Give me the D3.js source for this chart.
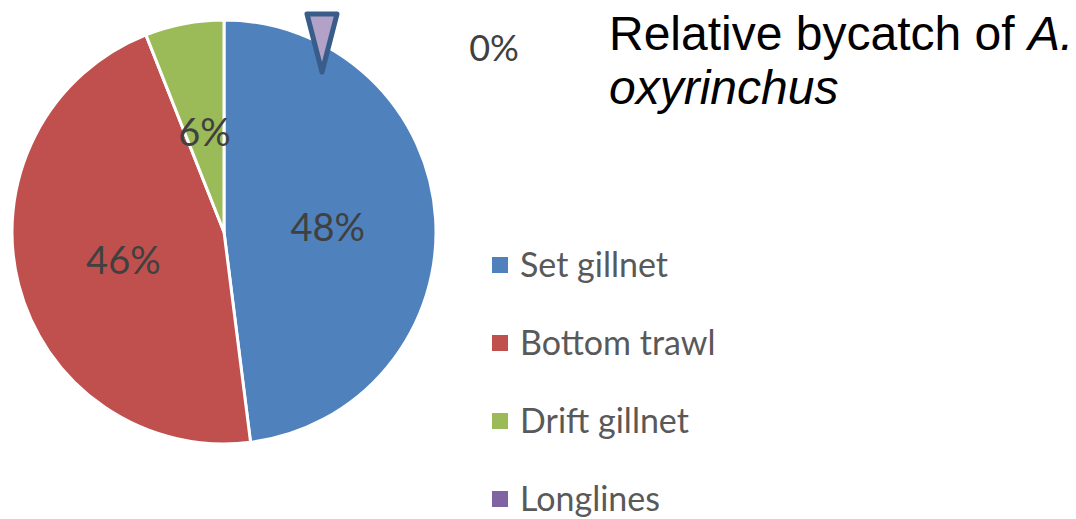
<!DOCTYPE html>
<html>
<head>
<meta charset="utf-8">
<script src="https://cdn.jsdelivr.net/npm/d3@7"></script>
<style>
  body { margin: 0; background: #fff; }
  svg { display: block; }
</style>
</head>
<body>
<script>
var width = 1076,
    height = 519;

// data
var categories = ["Set gillnet", "Bottom trawl", "Drift gillnet", "Longlines"];
var shares = [48, 46, 6, 0];
var colors = ["#4f81bd", "#c0504d", "#9bbb59", "#8064a2"];

var svg = d3.select("body").append("svg")
    .attr("width", width)
    .attr("height", height);

var cx = 224, cy = 232, r = 212;

var pie = d3.pie().sort(null).value(function(d) { return d; });
var arcs = pie(shares);
var arc = d3.arc().innerRadius(0).outerRadius(r);
var labelArc = d3.arc().innerRadius(r * 0.98).outerRadius(r * 0.98);

var g = svg.append("g").attr("transform", "translate(" + cx + "," + cy + ")");

g.selectAll("path.slice")
    .data(arcs.filter(function(d) { return d.value > 0; }))
  .enter().append("path")
    .attr("class", "slice")
    .attr("d", arc)
    .attr("fill", function(d) { return colors[d.index]; })
    .attr("stroke", "#fff")
    .attr("stroke-width", 3)
    .attr("stroke-linejoin", "round");

// labels for non-zero slices
g.selectAll("text.lbl")
    .data(arcs.filter(function(d) { return d.value > 0; }))
  .enter().append("text")
    .attr("class", "lbl")
    .attr("transform", function(d) {
      var c = labelArc.centroid(d);
      return "translate(" + c[0] / 2 + "," + c[1] / 2 + ")";
    })
    .attr("text-anchor", "middle")
    .attr("dy", "0.42em")
    .style("font-family", "Lato, 'Open Sans', sans-serif")
    .style("font-size", "38px")
    .style("fill", "#404040")
    .text(function(d) { return d.value + "%"; });

// zero slice: marker and moved label
var zero = arcs[3];
var zc = d3.arc().innerRadius(r * 0.78).outerRadius(r * 0.78).centroid(zero);
var tipX = zc[0] + 98, tipY = -cy + 72;
g.append("path")
    .attr("d", "M" + (tipX - 15) + "," + (tipY - 58) + "L" + (tipX + 15) + "," + (tipY - 58) + "L" + tipX + "," + tipY + "Z")
    .attr("fill", "#b3a2c7")
    .attr("stroke", "#385d8a")
    .attr("stroke-width", 5)
    .attr("stroke-linejoin", "round");

g.append("text")
    .attr("x", tipX + 172)
    .attr("y", tipY - 25)
    .attr("text-anchor", "middle")
    .attr("dy", "0.38em")
    .style("font-family", "Lato, 'Open Sans', sans-serif")
    .style("font-size", "36px")
    .style("fill", "#404040")
    .text(zero.value + "%");

// title
var title = svg.append("text")
    .attr("x", 609)
    .style("font-family", "'Liberation Sans', Arial, sans-serif")
    .style("font-size", "48px")
    .style("fill", "#000");
title.append("tspan").attr("x", 609).attr("y", 50).text("Relative bycatch of ");
title.append("tspan").style("font-style", "italic").text("A.");
title.append("tspan").attr("x", 609).attr("y", 104).style("font-style", "italic").text("oxyrinchus");

// legend
var legend = svg.append("g").attr("transform", "translate(492,265)");
var item = legend.selectAll("g")
    .data(categories)
  .enter().append("g")
    .attr("transform", function(d, i) { return "translate(0," + i * 78 + ")"; });

item.append("rect")
    .attr("x", 0)
    .attr("y", -8)
    .attr("width", 16)
    .attr("height", 16)
    .attr("fill", function(d, i) { return colors[i]; });

item.append("text")
    .attr("x", 28)
    .attr("dy", "0.36em")
    .style("font-family", "Lato, 'Open Sans', sans-serif")
    .style("font-size", "34px")
    .style("fill", "#595959")
    .text(function(d) { return d; });
</script>
</body>
</html>
